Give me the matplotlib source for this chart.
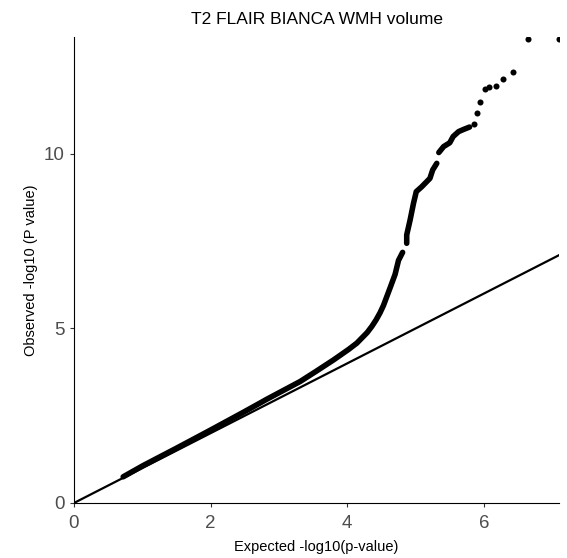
import numpy as np
import matplotlib
matplotlib.use("Agg")
import matplotlib.pyplot as plt

plt.rcParams['font.family'] = ['Liberation Sans', 'DejaVu Sans']

# dense part of the QQ curve (expected, observed); nan marks a visible gap
dense_x = [0.72, 1.01, 1.50, 1.99, 2.48, 2.72, 2.82, 3.06, 3.31, 3.55, 3.80, 4.02,
           4.14, 4.29, 4.36, 4.42, 4.48, 4.53, 4.58, 4.63, 4.70, 4.75, 4.81, np.nan,
           4.87, 4.87, 4.92, 4.97, 5.01, 5.09, 5.21, 5.25, 5.31, np.nan,
           5.34, 5.41, 5.50, 5.55, 5.63, 5.70, 5.79]
dense_y = [0.75, 1.07, 1.57, 2.08, 2.60, 2.86, 2.97, 3.22, 3.48, 3.78, 4.10, 4.40,
           4.58, 4.88, 5.06, 5.24, 5.45, 5.66, 5.92, 6.18, 6.55, 6.95, 7.18, np.nan,
           7.44, 7.68, 8.11, 8.59, 8.92, 9.06, 9.30, 9.54, 9.73, np.nan,
           10.04, 10.21, 10.32, 10.50, 10.64, 10.70, 10.77]

# sparse tail points
tail_x = [5.85, 5.90, 5.95, 6.01, 6.08, 6.17, 6.28, 6.42, 6.64, 7.10]
tail_y = [10.86, 11.17, 11.48, 11.85, 11.93, 11.96, 12.14, 12.35, 13.29, 13.29]

x_max = 7.10
y_max = 13.35

fig = plt.figure(figsize=(5.67, 5.58), dpi=100)
ax = fig.add_axes([0.1305, 0.0986, 0.8555, 0.8351])

ax.plot([0, 7.2], [0, 7.2], color='black', lw=1.6, zorder=2)
ax.plot(dense_x, dense_y, color='black', lw=4, solid_capstyle='round',
        solid_joinstyle='round', zorder=3)
ax.scatter(tail_x, tail_y, s=19, color='black', linewidths=0, zorder=3)

ax.set_xlim(0, x_max)
ax.set_ylim(0, y_max)
ax.set_xticks([0, 2, 4, 6])
ax.set_yticks([0, 5, 10])

for side in ['top', 'right']:
    ax.spines[side].set_visible(False)
for side in ['left', 'bottom']:
    ax.spines[side].set_color('black')
    ax.spines[side].set_linewidth(0.8)

ax.tick_params(axis='both', colors='#333333', labelcolor='#4D4D4D',
               labelsize=13.5, length=3, width=0.8, pad=4)
ax.tick_params(axis='x', pad=5.5)

ax.set_title('T2 FLAIR BIANCA WMH volume', fontsize=12.5, pad=9)
ax.set_xlabel('Expected -log10(p-value)', fontsize=10.5, labelpad=6)
ax.set_ylabel('Observed -log10 (P value)', fontsize=10.5, labelpad=4)

fig.savefig('out.png', dpi=100)
